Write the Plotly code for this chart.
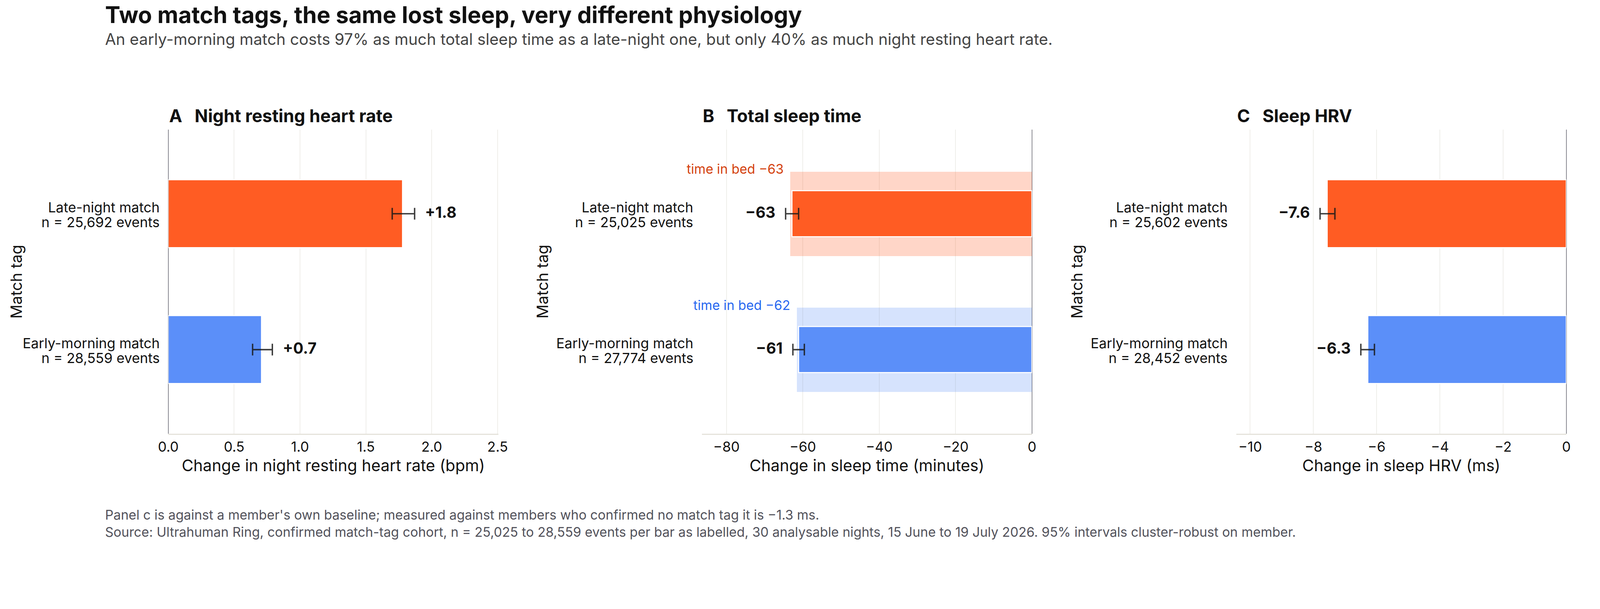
import plotly.graph_objects as go
from plotly.subplots import make_subplots

# -----------------------------
# Data
# -----------------------------
TAGS = ["Late-night match", "Early-morning match"]

RHR_N = [25692, 28559]
RHR_MEAN = [1.78, 0.71]
RHR_LO = [1.70, 0.64]
RHR_HI = [1.87, 0.79]

SLEEP_N = [25025, 27774]
SLEEP_MEAN = [-62.8, -61.1]
SLEEP_LO = [-64.5, -62.6]
SLEEP_HI = [-61.1, -59.6]
BED_MEAN = [-63.3, -61.6]

HRV_N = [25602, 28452]
HRV_MEAN = [-7.56, -6.28]
HRV_LO = [-7.79, -6.50]
HRV_HI = [-7.32, -6.07]

# -----------------------------
# Theme
# -----------------------------
# the page is photographed at 1.1 device pixels per css pixel
W, H = 4145, 1418
REF_W, REF_H = 4560, 1560   # positions below are measured on the photo
# the figure lands a little right/down of the page origin in the photo
SHIFT_X, SHIFT_Y = 27 / W, 8 / H

FONT = "Inter"
INK = "#111111"
ORANGE = "#FF5C23"
BLUE = "#5B8FF9"
BAR_COLORS = [ORANGE, BLUE]
BAND_COLORS = ["rgba(255,92,35,0.25)", "rgba(91,143,249,0.25)"]
NOTE_COLORS = ["#D4420F", "#2868F0"]
GRID = "#EFEEEA"
AXIS_LINE = "#E5E3DB"
ZERO = "#8A8A92"
ERR = "rgba(25,25,25,0.85)"


def px_x(p):
    return p / REF_W - SHIFT_X


def px_y(p):
    return 1 - p / REF_H + SHIFT_Y


X_DOMAINS = [[px_x(479.6), px_x(1421.0)],
             [px_x(2001.4), px_x(2943.0)],
             [px_x(3525.7), px_x(4467.0)]]
Y_DOMAIN = [px_y(1231.5), px_y(373.7)]
Y_POS = list(range(len(TAGS)))


def fmt(v, digits):
    return f"{v:+.{digits}f}".replace("-", "\u2212")


fig = make_subplots(rows=1, cols=3)

panels = [
    (RHR_MEAN, RHR_LO, RHR_HI, RHR_N, 1),
    (SLEEP_MEAN, SLEEP_LO, SLEEP_HI, SLEEP_N, 0),
    (HRV_MEAN, HRV_LO, HRV_HI, HRV_N, 1),
]

for col, (mean, lo, hi, n, digits) in enumerate(panels, start=1):
    xref = "x" if col == 1 else f"x{col}"
    yref = "y" if col == 1 else f"y{col}"

    # time-in-bed band behind the sleep bars
    if col == 2:
        fig.add_trace(go.Bar(
            x=BED_MEAN, y=Y_POS, orientation="h", width=0.62,
            marker=dict(color=BAND_COLORS, line=dict(width=0)),
            showlegend=False, hoverinfo="skip",
        ), row=1, col=col)

    fig.add_trace(go.Bar(
        x=mean, y=Y_POS, orientation="h",
        width=0.34 if col == 2 else 0.5,
        marker=dict(color=BAR_COLORS, line=dict(color="white", width=2.7)),
        error_x=dict(
            type="data", symmetric=False,
            array=[h - m for h, m in zip(hi, mean)],
            arrayminus=[m - l for m, l in zip(mean, lo)],
            color=ERR, thickness=3.6, width=15,
        ),
        showlegend=False,
    ), row=1, col=col)

    # value labels just beyond the interval
    for i, m in enumerate(mean):
        positive = m > 0
        fig.add_annotation(
            x=hi[i] if positive else lo[i], y=Y_POS[i],
            xref=xref, yref=yref,
            text=fmt(m, digits),
            showarrow=False,
            xanchor="left" if positive else "right",
            xshift=25 if positive else -24, yshift=4,
            font=dict(family=FONT, size=39, color=INK, weight=700),
        )

    # category labels, two tight lines each
    for i, tag in enumerate(TAGS):
        for line, dy in ((tag, 16.4), (f"n = {n[i]:,} events", -22.4)):
            fig.add_annotation(
                x=X_DOMAINS[col - 1][0], y=Y_POS[i], xref="paper", yref=yref,
                text=line, showarrow=False, xanchor="right", yanchor="middle",
                xshift=-20, yshift=dy,
                font=dict(family=FONT, size=35.5, color=INK),
            )

    # y title (kept inside the paper on the first panel)
    fig.add_annotation(
        x=max(X_DOMAINS[col - 1][0] - 455 / REF_W, 15 / W), y=sum(Y_DOMAIN) / 2,
        xref="paper", yref="paper", text="Match tag", textangle=-90,
        showarrow=False, xanchor="center", yanchor="middle",
        font=dict(family=FONT, size=40, color=INK),
    )

    # axis extent: 1.34 x the furthest interval end
    far = max(hi) if max(hi) > 0 else min(lo)
    rng = [0, far * 1.34] if far > 0 else [far * 1.34, 0]
    dtick = {1: 0.5, 2: 20, 3: 2}[col]

    fig.update_xaxes(
        domain=X_DOMAINS[col - 1], range=rng, dtick=dtick,
        tickformat=".1f" if col == 1 else None,
        showgrid=True, gridcolor=GRID, gridwidth=1.8,
        zeroline=True, zerolinecolor=ZERO, zerolinewidth=1.8,
        showline=True, linecolor=AXIS_LINE, linewidth=3.2,
        ticks="", ticklabelstandoff=0,
        tickfont=dict(family=FONT, size=35.5, color=INK),
        title=dict(
            text=["Change in night resting heart rate (bpm)",
                  "Change in sleep time (minutes)",
                  "Change in sleep HRV (ms)"][col - 1],
            font=dict(family=FONT, size=41, color=INK),
            standoff=13.5,
        ),
        row=1, col=col,
    )
    fig.update_yaxes(
        domain=Y_DOMAIN, range=[1.62, -0.62],
        showticklabels=False, showgrid=False, zeroline=False, showline=False,
        row=1, col=col,
    )

# time-in-bed notes above the bands
for i, b in enumerate(BED_MEAN):
    fig.add_annotation(
        x=b, y=Y_POS[i], xref="x2", yref="y2",
        text=f"time in bed {b:.0f}".replace("-", "\u2212"),
        showarrow=False, xanchor="right", yanchor="bottom",
        xshift=-15, yshift=92,
        font=dict(family=FONT, size=33.5, color=NOTE_COLORS[i]),
    )

# panel titles
for col, name in enumerate(["A\u00a0\u00a0\u00a0Night resting heart rate",
                            "B\u00a0\u00a0\u00a0Total sleep time",
                            "C\u00a0\u00a0\u00a0Sleep HRV"]):
    fig.add_annotation(
        x=X_DOMAINS[col][0], y=px_y(335), xref="paper", yref="paper",
        text=name, showarrow=False, xanchor="left", yanchor="middle",
        font=dict(family=FONT, size=44.8, color=INK, weight=700),
    )

# headline, subtitle, footer
fig.add_annotation(
    x=px_x(297), y=px_y(50), xref="paper", yref="paper",
    text="Two match tags, the same lost sleep, very different physiology",
    showarrow=False, xanchor="left", yanchor="middle",
    font=dict(family=FONT, size=58.5, color=INK, weight=700),
)
fig.add_annotation(
    x=px_x(297), y=px_y(119), xref="paper", yref="paper",
    text="An early-morning match costs 97% as much total sleep time as a late-night one, "
         "but only 40% as much night resting heart rate.",
    showarrow=False, xanchor="left", yanchor="middle",
    font=dict(family=FONT, size=40.4, color="#444444"),
)
fig.add_annotation(
    x=px_x(297), y=px_y(1483), xref="paper", yref="paper",
    text="Panel c is against a member's own baseline; measured against members who confirmed "
         "no match tag it is \u22121.3 ms.<br>"
         "Source: Ultrahuman Ring, confirmed match-tag cohort, n = 25,025 to 28,559 events per bar "
         "as labelled, 30 analysable nights, 15 June to 19 July 2026. 95% intervals cluster-robust on member.",
    showarrow=False, xanchor="left", yanchor="middle", align="left",
    font=dict(family=FONT, size=33.7, color="#52525B"),
)

fig.update_layout(
    width=W, height=H,
    margin=dict(l=0, r=0, t=0, b=0),
    plot_bgcolor="white", paper_bgcolor="white",
    barmode="overlay", bargap=0,
    font=dict(family=FONT, color=INK),
    showlegend=False,
)

fig.write_html("out.html", config={"displayModeBar": False},
               post_script="document.body.style.margin='0';")
